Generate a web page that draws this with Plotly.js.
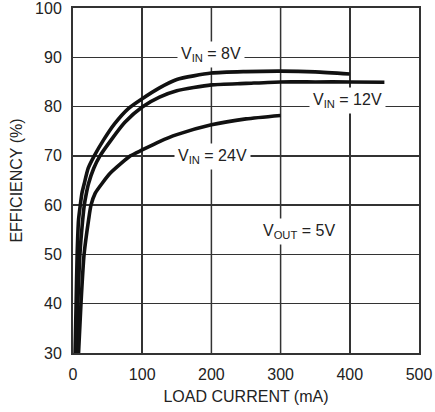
<!DOCTYPE html>
<html>
<head>
<meta charset="utf-8">
<script src="https://cdn.plot.ly/plotly-3.0.1.min.js"></script>
<style>html,body{margin:0;padding:0;background:#fff;}#chart{width:435px;height:412px;}</style>
</head>
<body>
<div id="chart"></div>
<script>
// Load current (mA) and efficiency (%) for each input voltage
const x8 = [3, 4.5, 6, 8, 10.5, 13, 16.3, 22, 30.7, 44, 60, 80, 100, 125, 150, 200, 250, 300, 350, 400];
const y8 = [30, 40, 50, 57, 60, 62.5, 64.4, 67.5, 70, 73.2, 76.5, 79.6, 81.6, 83.8, 85.5, 86.8, 87.1, 87.2, 87.05, 86.6];

const x12 = [5, 7, 10, 14, 16.3, 19, 22.5, 30, 39, 55, 75, 100, 125, 150, 200, 250, 300, 350, 400, 450];
const y12 = [30, 40, 50, 57, 60, 62.2, 64.4, 67.5, 70, 73.2, 76.8, 79.9, 81.9, 83.2, 84.4, 84.7, 85.0, 85.0, 85.0, 84.95];

const x24 = [8, 11.5, 16, 22.5, 26, 32, 42, 54, 83, 100, 125, 150, 200, 250, 300];
const y24 = [30, 40, 50, 57, 60, 62.4, 64.4, 66.5, 70, 71.2, 72.9, 74.3, 76.3, 77.5, 78.2];

const xTicks = [0, 100, 200, 300, 400, 500];
const yTicks = [30, 40, 50, 60, 70, 80, 90, 100];

const labels = [
  {text: 'V<sub>IN</sub> = 8V', x: 200, y: 90.6},
  {text: 'V<sub>IN</sub> = 12V', x: 396, y: 81.2},
  {text: 'V<sub>IN</sub> = 24V', x: 201, y: 69.8},
  {text: 'V<sub>OUT</sub> = 5V', x: 327, y: 54.7}
];

const FONT = '"Liberation Sans", Arial, sans-serif';
const INK = '#333';
const lineStyle = {color: '#111', width: 3.6, shape: 'spline', smoothing: 0.6};

const traces = [
  {x: x8, y: y8, mode: 'lines', line: lineStyle, hoverinfo: 'skip'},
  {x: x12, y: y12, mode: 'lines', line: lineStyle, hoverinfo: 'skip'},
  {x: x24, y: y24, mode: 'lines', line: lineStyle, hoverinfo: 'skip'}
];

const axisCommon = {
  showgrid: true, gridcolor: INK, gridwidth: 1.5,
  showline: true, linecolor: INK, linewidth: 2, mirror: true,
  zeroline: false, ticks: 'outside', ticklen: 6, tickcolor: 'rgba(0,0,0,0)',
  ticklabeloverflow: 'allow',
  tickfont: {family: FONT, size: 16, color: '#222'}
};

// vertical grid lines drawn through the x scale at the inner tick values
const gridShapes = xTicks.slice(1, -1).map(v => ({
  type: 'line', xref: 'x', yref: 'paper', x0: v, x1: v, y0: 0, y1: 1,
  line: {color: INK, width: 1.5}, layer: 'below'
}));

const layout = {
  width: 435, height: 412,
  margin: {l: 73, r: 16, t: 8, b: 59},
  paper_bgcolor: '#fff', plot_bgcolor: '#fff',
  showlegend: false,
  font: {family: FONT, size: 16, color: '#222'},
  xaxis: Object.assign({}, axisCommon, {
    range: [xTicks[0], xTicks[xTicks.length - 1]], tickvals: xTicks, ticktext: xTicks.map(String),
    title: {text: 'LOAD CURRENT (mA)', font: {family: FONT, size: 16, color: '#222'}, standoff: 9}
  }),
  yaxis: Object.assign({}, axisCommon, {
    range: [yTicks[0], yTicks[yTicks.length - 1]], tickvals: yTicks, ticktext: yTicks.map(String),
    title: {text: 'EFFICIENCY (%)', font: {family: FONT, size: 16, color: '#222'}, standoff: 8}
  }),
  shapes: gridShapes,
  annotations: labels.map(l => ({
    text: l.text, x: l.x, y: l.y, xref: 'x', yref: 'y',
    showarrow: false, xanchor: 'center', yanchor: 'middle',
    bgcolor: '#fff', borderpad: 3,
    font: {family: FONT, size: 16, color: '#222'}
  }))
};

Plotly.newPlot('chart', traces, layout, {displayModeBar: false, staticPlot: true});
</script>
</body>
</html>
